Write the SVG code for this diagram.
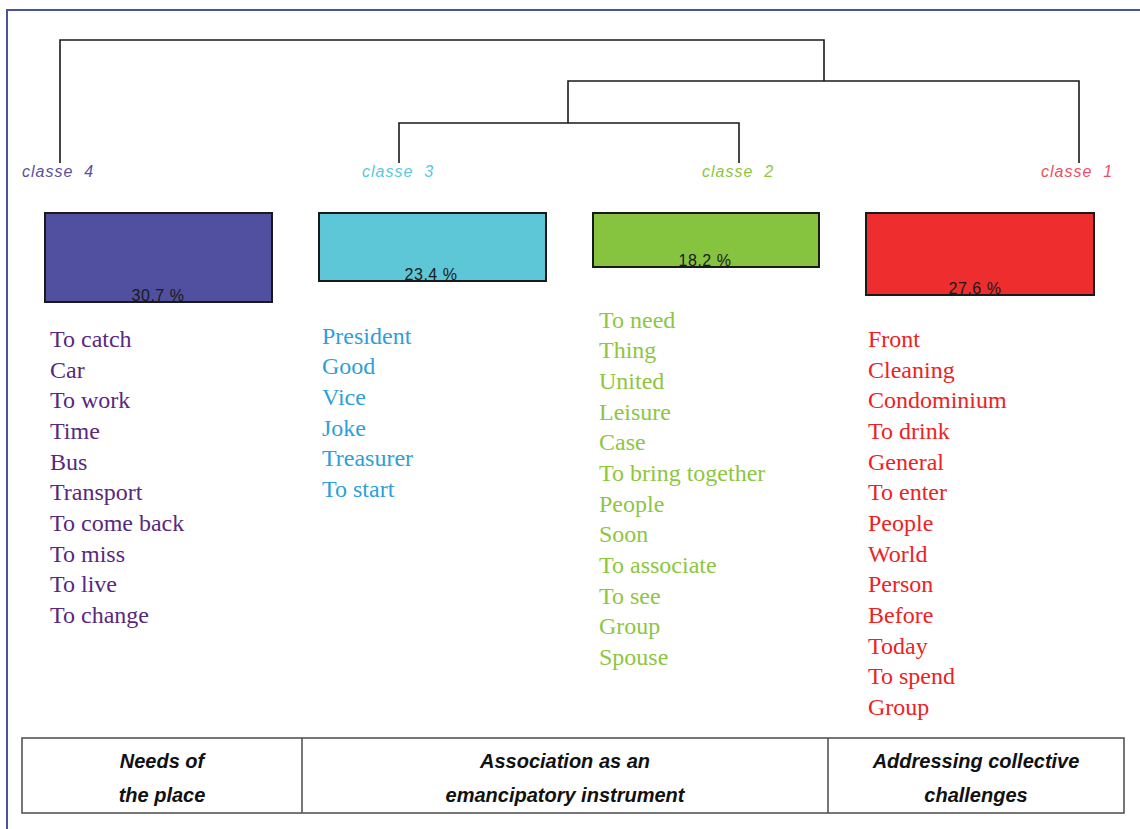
<svg xmlns="http://www.w3.org/2000/svg" width="1140" height="829" viewBox="0 0 1140 829">
<style>
.frame{fill:none;stroke:#4a52a8;stroke-width:2}
.tree{fill:none;stroke:#1a1a1a;stroke-width:1.6}
.cls{font-family:"Liberation Sans",Arial,sans-serif;font-style:italic;font-size:16px;letter-spacing:1px;white-space:pre}
.box{stroke:#1a1a1a;stroke-width:2}
.pct{font-family:"Liberation Sans",Arial,sans-serif;font-size:16px;fill:#1a1a1a;text-anchor:middle;letter-spacing:0.5px}
.w{font-family:"Liberation Serif","Times New Roman",serif;font-size:24px}
.tbl{fill:none;stroke:#555;stroke-width:1.6}
.th{font-family:"Liberation Sans",Arial,sans-serif;font-style:italic;font-weight:bold;font-size:20px;fill:#111;text-anchor:middle}
</style>
<rect x="0" y="0" width="1140" height="829" fill="#fff"/>
<rect class="frame" x="7" y="10" width="1150" height="840"/>
<g id="connectors">
<path class="tree" d="M60,163 V40 H824 V81"/>
<path class="tree" d="M568,123 V81 H1079 V163"/>
<path class="tree" d="M399,163 V123 H739 V163"/>
</g>
<g id="class4">
<text class="cls" x="22" y="177" fill="#5b50a0">classe  4</text>
<rect class="box" x="45" y="213" width="227" height="89" fill="#514fa0"/>
<text class="pct" x="158" y="301">30.7 %</text>
<g class="w" fill="#58287f">
<text x="50" y="347">To catch</text>
<text x="50" y="378">Car</text>
<text x="50" y="408">To work</text>
<text x="50" y="439">Time</text>
<text x="50" y="470">Bus</text>
<text x="50" y="500">Transport</text>
<text x="50" y="531">To come back</text>
<text x="50" y="562">To miss</text>
<text x="50" y="592">To live</text>
<text x="50" y="623">To change</text>
</g>
</g>
<g id="class3">
<text class="cls" x="362" y="177" fill="#5bc8d8">classe  3</text>
<rect class="box" x="319" y="213" width="227" height="68" fill="#5ec7d7"/>
<text class="pct" x="431" y="280">23.4 %</text>
<g class="w" fill="#2e9fd8">
<text x="322" y="344">President</text>
<text x="322" y="374">Good</text>
<text x="322" y="405">Vice</text>
<text x="322" y="436">Joke</text>
<text x="322" y="466">Treasurer</text>
<text x="322" y="497">To start</text>
</g>
</g>
<g id="class2">
<text class="cls" x="702" y="177" fill="#8dc63f">classe  2</text>
<rect class="box" x="593" y="213" width="226" height="54" fill="#86c440"/>
<text class="pct" x="705" y="266">18.2 %</text>
<g class="w" fill="#8dc63f">
<text x="599" y="328">To need</text>
<text x="599" y="358">Thing</text>
<text x="599" y="389">United</text>
<text x="599" y="420">Leisure</text>
<text x="599" y="450">Case</text>
<text x="599" y="481">To bring together</text>
<text x="599" y="512">People</text>
<text x="599" y="542">Soon</text>
<text x="599" y="573">To associate</text>
<text x="599" y="604">To see</text>
<text x="599" y="634">Group</text>
<text x="599" y="665">Spouse</text>
</g>
</g>
<g id="class1">
<text class="cls" x="1041" y="177" fill="#f04e5e">classe  1</text>
<rect class="box" x="866" y="213" width="228" height="82" fill="#ee2e2e"/>
<text class="pct" x="975" y="294">27.6 %</text>
<g class="w" fill="#ee2222">
<text x="868" y="347">Front</text>
<text x="868" y="378">Cleaning</text>
<text x="868" y="408">Condominium</text>
<text x="868" y="439">To drink</text>
<text x="868" y="470">General</text>
<text x="868" y="500">To enter</text>
<text x="868" y="531">People</text>
<text x="868" y="562">World</text>
<text x="868" y="592">Person</text>
<text x="868" y="623">Before</text>
<text x="868" y="654">Today</text>
<text x="868" y="684">To spend</text>
<text x="868" y="715">Group</text>
</g>
</g>
<g id="table">
<rect class="tbl" x="22" y="738" width="1102" height="75"/>
<line class="tbl" x1="302" y1="738" x2="302" y2="813"/>
<line class="tbl" x1="828" y1="738" x2="828" y2="813"/>
<text class="th" x="162" y="768">Needs of</text>
<text class="th" x="162" y="802">the place</text>
<text class="th" x="565" y="768">Association as an</text>
<text class="th" x="565" y="802">emancipatory instrument</text>
<text class="th" x="976" y="768">Addressing collective</text>
<text class="th" x="976" y="802">challenges</text>
</g>
</svg>
